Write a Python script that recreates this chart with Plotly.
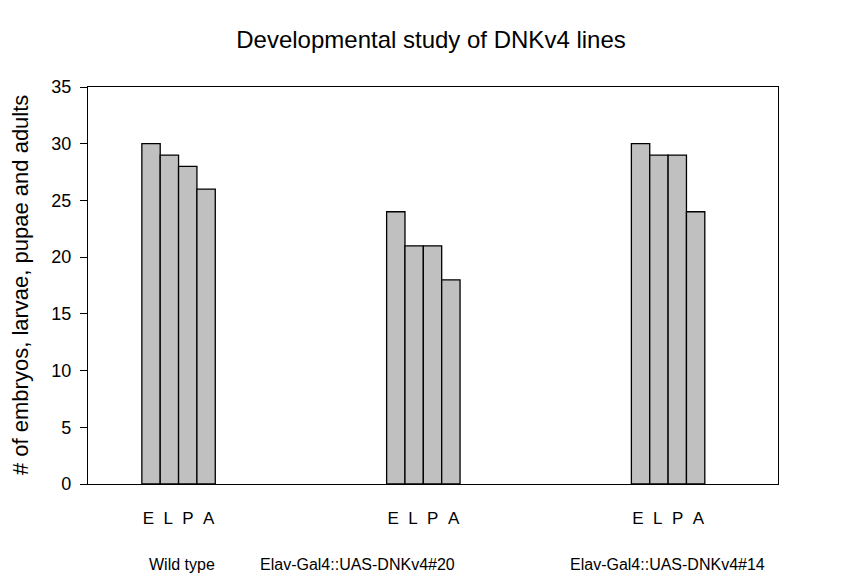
import plotly.graph_objects as go

groups = ["Wild type", "Elav-Gal4::UAS-DNKv4#20", "Elav-Gal4::UAS-DNKv4#14"]
stages = ["E", "L", "P", "A"]
embryos = [30, 24, 30]
larvae = [29, 21, 29]
pupae = [28, 21, 29]
adults = [26, 18, 24]
stage_tick_label = "E\u00a0\u00a0L\u00a0\u00a0P\u00a0\u00a0A"
y_ticks = [0, 5, 10, 15, 20, 25, 30, 35]

FONT = "Liberation Sans, Arial, sans-serif"
W, H = 859, 574
# the page body adds an 8px offset; positions below are in figure pixels
L, R, T, B = 80, 89, 79, 98

fig = go.Figure()
for name, vals in zip(stages, [embryos, larvae, pupae, adults]):
    fig.add_trace(go.Bar(
        x=groups, y=vals, name=name,
        marker=dict(color="#c0c0c0", line=dict(color="#000000", width=1.3)),
        showlegend=False,
    ))

fig.update_layout(
    width=W, height=H,
    margin=dict(l=L, r=R, t=T, b=B),
    paper_bgcolor="white", plot_bgcolor="white",
    barmode="group", bargap=0.7, bargroupgap=0,
    font=dict(family=FONT, color="black", size=16),
    title=dict(text="Developmental study of DNKv4 lines", x=423 / W, xanchor="center",
               xref="container", yref="container",
               y=1 - 32 / H, yanchor="middle", font=dict(size=24, family=FONT)),
    xaxis=dict(type="category", range=[-0.370, 2.449], showline=True, mirror=True,
               linecolor="black", linewidth=1.3, ticks="", showgrid=False,
               tickvals=groups, ticktext=[stage_tick_label] * 3,
               tickfont=dict(size=17), ticklabelstandoff=18),
    yaxis=dict(range=[0, 35], tickvals=y_ticks, showline=True, mirror=True,
               linecolor="black", linewidth=1.3, ticks="outside", ticklen=7,
               tickcolor="black", showgrid=False, zeroline=False,
               tickfont=dict(size=18), ticklabelstandoff=5),
)

pw, ph = W - L - R, H - T - B


def px_x(px):
    return (px - L) / pw


def px_y(py):
    return (H - B - py) / ph


fig.add_annotation(text="# of embryos, larvae, pupae and adults", textangle=-90,
                   xref="paper", yref="paper", x=px_x(12), y=px_y(277), xanchor="center",
                   yanchor="middle", showarrow=False, font=dict(size=22, family=FONT))

label_x = [139, 250, 659]
label_anchor = ["left", "left", "center"]
for g, px, anc in zip(groups, label_x, label_anchor):
    fig.add_annotation(text=g, xref="paper", yref="paper",
                       x=px_x(px), y=px_y(556), xanchor=anc, yanchor="middle",
                       showarrow=False, font=dict(size=16, family=FONT))

fig.write_html("out.html")
